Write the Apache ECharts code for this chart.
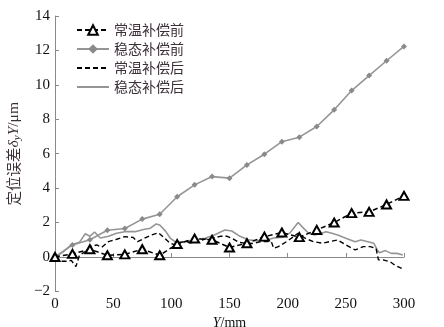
<!DOCTYPE html>
<html>
<head>
<meta charset="utf-8">
<script src="https://cdn.jsdelivr.net/npm/echarts@6/dist/echarts.min.js"></script>
<style>
  html, body { margin: 0; padding: 0; background: #fff; }
  #chart { width: 444px; height: 327px; }
</style>
</head>
<body>
<div id="chart"></div>
<script>
// Positions sampled every 15 mm for the "before compensation" runs
const stepPos = [0, 15, 30, 45, 60, 75, 90, 105, 120, 135, 150, 165, 180, 195, 210, 225, 240, 255, 270, 285, 300];
const roomBefore = [0, 0.18, 0.45, 0.1, 0.15, 0.45, 0.1, 0.75, 1.07, 1.0, 0.55, 0.8, 1.18, 1.42, 1.15, 1.57, 2.0, 2.55, 2.62, 3.05, 3.55];
const steadyBefore = [0, 0.7, 1.0, 1.55, 1.65, 2.2, 2.48, 3.5, 4.19, 4.67, 4.58, 5.35, 5.97, 6.7, 6.96, 7.58, 8.55, 9.67, 10.54, 11.4, 12.23];

// Dense traces after compensation: positions (mm) and errors (μm)
const roomAfterPos = [0, 5, 10, 14, 18, 21, 26, 30, 36, 40, 46, 53, 60, 67, 71, 77, 83, 89, 94, 99, 103, 108, 113, 118, 124, 130, 136, 142, 148, 153, 158, 164, 170, 176, 182, 186, 188, 192, 199, 205, 209, 215, 222, 230, 236, 243, 250, 258, 265, 271, 276, 278, 282, 288, 292, 298];
const roomAfter = [0, -0.25, -0.25, -0.2, -0.56, 0.1, 0.31, 0.6, 0.7, 0.55, 0.89, 1.03, 1.18, 1.14, 0.89, 1.09, 1.28, 1.4, 1.1, 0.8, 0.7, 0.85, 0.9, 0.8, 0.95, 1.05, 1.1, 1.2, 1.2, 1.05, 0.85, 0.8, 0.78, 0.88, 0.9, 0.88, 0.5, 0.6, 0.89, 1.18, 1.38, 1.09, 0.89, 0.8, 0.89, 0.99, 0.7, 0.41, 0.6, 0.6, 0.5, -0.17, -0.17, -0.27, -0.47, -0.66];
const steadyAfterPos = [0, 7, 14, 21, 26, 30, 34, 39, 46, 53, 60, 69, 76, 82, 87, 90, 95, 99, 104, 112, 120, 129, 137, 146, 152, 159, 166, 172, 180, 188, 196, 202, 209, 214, 218, 223, 229, 233, 238, 243, 250, 258, 263, 269, 274, 277, 279, 284, 289, 294, 299];
const steadyAfter = [0, 0.3, 0.7, 0.85, 1.35, 1.2, 1.45, 1.1, 1.2, 1.38, 1.47, 1.47, 1.6, 1.67, 1.92, 1.86, 1.5, 1.1, 0.85, 0.89, 0.99, 1.09, 1.28, 1.57, 1.51, 1.2, 1.0, 0.95, 0.95, 1.1, 1.15, 1.4, 2.0, 1.65, 1.38, 1.28, 1.38, 1.47, 1.38, 1.28, 1.09, 0.89, 0.99, 0.89, 0.8, 0.41, 0.25, 0.37, 0.21, 0.21, 0.12];

const seriesNames = ['常温补偿前', '稳态补偿前', '常温补偿后', '稳态补偿后'];
const xTicks = { min: 0, max: 300, step: 50 };
const yTicks = { min: -2, max: 14, step: 2 };

const zip = (xs, ys) => xs.map((x, i) => [x, ys[i]]);

const numFont = '"Liberation Serif", "DejaVu Serif", serif';
const cjkFont = '"Noto Sans CJK SC", sans-serif';
const axisGrey = '#8a8a8a';
const lineGrey = '#959595';
const textDark = '#3b3038';

// Line-only series: hide the marker in their legend icons
const noMarker = { color: 'rgba(0,0,0,0)', borderWidth: 0, opacity: 0 };

const chart = echarts.init(document.getElementById('chart'), null, { renderer: 'canvas' });

chart.setOption({
  animation: false,
  backgroundColor: '#fff',
  grid: { left: 55, right: 40, top: 16, bottom: 35.6, containLabel: false, outerBoundsMode: 'none' },
  legend: {
    orient: 'vertical',
    left: 71,
    top: 18,
    itemWidth: 32,
    itemHeight: 12,
    itemGap: 5,
    data: [
      { name: seriesNames[0] },
      { name: seriesNames[1] },
      { name: seriesNames[2], itemStyle: noMarker },
      { name: seriesNames[3], itemStyle: noMarker }
    ],
    textStyle: { fontFamily: cjkFont, fontSize: 14, color: textDark }
  },
  xAxis: {
    type: 'value',
    min: xTicks.min,
    max: xTicks.max,
    interval: xTicks.step,
    name: '{i|Y}{n|/mm}',
    nameLocation: 'middle',
    nameGap: 16,
    nameTextStyle: {
      rich: {
        i: { fontFamily: numFont, fontStyle: 'italic', fontSize: 14, color: '#111' },
        n: { fontFamily: numFont, fontSize: 14, color: '#111' }
      }
    },
    axisLine: { lineStyle: { color: axisGrey, width: 1 } },
    axisTick: { inside: true, length: 4, lineStyle: { color: axisGrey } },
    axisLabel: { fontFamily: numFont, fontSize: 15, color: '#111', margin: 5 },
    splitLine: { show: false }
  },
  yAxis: {
    type: 'value',
    min: yTicks.min,
    max: yTicks.max,
    interval: yTicks.step,
    name: '{c|定位误差}{i|δ}{s|y}{i|Y}{n|/μm}',
    nameLocation: 'middle',
    nameRotate: 90,
    nameGap: 32,
    nameTextStyle: {
      rich: {
        c: { fontFamily: cjkFont, fontSize: 14.5, color: textDark },
        i: { fontFamily: numFont, fontStyle: 'italic', fontSize: 15.5, color: textDark },
        s: { fontFamily: numFont, fontStyle: 'italic', fontSize: 11, color: textDark, verticalAlign: 'bottom', padding: [8, 0, 0, 0] },
        n: { fontFamily: numFont, fontSize: 15.5, color: textDark }
      }
    },
    axisLine: { show: true, lineStyle: { color: axisGrey, width: 1 } },
    axisTick: { show: true, inside: true, length: 4, lineStyle: { color: axisGrey } },
    axisLabel: {
      fontFamily: numFont, fontSize: 15, color: '#111', margin: 5,
      formatter: v => String(v).replace('-', '\u2212')
    },
    splitLine: { show: false }
  },
  series: [
    {
      name: seriesNames[0],
      type: 'line',
      data: zip(stepPos, roomBefore),
      symbol: 'triangle',
      symbolSize: [9, 8],
      lineStyle: { color: '#000', width: 1.5, type: [5, 3] },
      itemStyle: { color: '#fff', borderColor: '#000', borderWidth: 2 },
      z: 5
    },
    {
      name: seriesNames[1],
      type: 'line',
      data: zip(stepPos, steadyBefore),
      symbol: 'diamond',
      symbolSize: 6,
      lineStyle: { color: lineGrey, width: 1.6 },
      itemStyle: { color: '#8a8a8a' },
      z: 3
    },
    {
      name: seriesNames[2],
      type: 'line',
      data: zip(roomAfterPos, roomAfter),
      symbol: 'none',
      lineStyle: { color: '#000', width: 1.4, type: [5, 3] },
      itemStyle: { color: '#000' },
      z: 4
    },
    {
      name: seriesNames[3],
      type: 'line',
      data: zip(steadyAfterPos, steadyAfter),
      symbol: 'none',
      lineStyle: { color: lineGrey, width: 1.6 },
      itemStyle: { color: lineGrey },
      z: 2
    }
  ]
});
</script>
</body>
</html>
